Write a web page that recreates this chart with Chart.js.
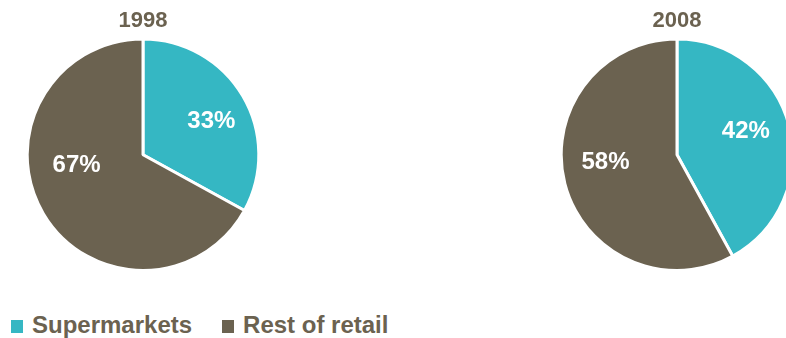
<!DOCTYPE html>
<html>
<head>
<meta charset="utf-8">
<script src="https://cdn.jsdelivr.net/npm/chart.js@4/dist/chart.umd.min.js"></script>
<style>
  html, body { margin: 0; padding: 0; background: #fff; }
  body { width: 786px; height: 338px; position: relative; overflow: hidden; font-family: "Liberation Sans", Arial, Helvetica, sans-serif; }
  .pie { position: absolute; top: 0; }
  #legend { position: absolute; left: 11px; top: 311px; display: flex; align-items: center; }
  .item { display: flex; align-items: center; margin-right: 30px; color: #6b6250; font-weight: bold; font-size: 24px; }
  .box { width: 12px; height: 13px; margin-right: 9px; margin-top: 2px; }
</style>
</head>
<body>
<canvas id="pie1998" class="pie" width="240" height="272" style="left:23px"></canvas>
<canvas id="pie2008" class="pie" width="240" height="272" style="left:557px"></canvas>
<div id="legend"></div>
<script>
const categorias = ['Supermarkets', 'Rest of retail'];
const cores = ['#35b7c3', '#6b6250'];
const anos = ['1998', '2008'];
const valores1998 = [33, 67];
const valores2008 = [42, 58];

const corTexto = '#6b6250';
const fonte = '"Liberation Sans", Arial, Helvetica, sans-serif';

// rótulos de porcentagem dentro das fatias
const rotulosPct = {
    id: 'rotulosPct',
    afterDatasetsDraw(chart, args, opts) {
        const ctx = chart.ctx;
        const meta = chart.getDatasetMeta(0);
        const dados = chart.data.datasets[0].data;
        ctx.save();
        ctx.fillStyle = '#fff';
        ctx.font = 'bold 24px ' + fonte;
        ctx.textAlign = 'center';
        ctx.textBaseline = 'middle';
        meta.data.forEach((arc, i) => {
            const p = arc.getProps(['x', 'y', 'startAngle', 'endAngle', 'outerRadius'], true);
            const ajuste = (opts.ajustes && opts.ajustes[i]) || { giro: 0, r: 0.62 };
            const ang = (p.startAngle + p.endAngle) / 2 + ajuste.giro * Math.PI / 180;
            const r = p.outerRadius * ajuste.r;
            ctx.fillText(dados[i] + '%', p.x + Math.cos(ang) * r, p.y + Math.sin(ang) * r + 1);
        });
        ctx.restore();
    }
};

function montarPizza(id, titulo, valores, ajustes) {
    return new Chart(document.getElementById(id), {
        type: 'pie',
        data: { labels: categorias, datasets: [{ data: valores, backgroundColor: cores, borderColor: '#fff', borderWidth: 3, hoverOffset: 0 }] },
        options: {
            responsive: false, animation: false, devicePixelRatio: 1,
            layout: { padding: 0 },
            plugins: {
                legend: { display: false },
                tooltip: { enabled: false },
                title: { display: true, text: titulo, color: corTexto, font: { family: fonte, size: 22, weight: 'bold' }, padding: { top: 8, bottom: 3 } },
                rotulosPct: { ajustes: ajustes }
            }
        },
        plugins: [rotulosPct]
    });
}

montarPizza('pie1998', anos[0], valores1998, [{ giro: 4, r: 0.66 }, { giro: 22, r: 0.58 }]);
montarPizza('pie2008', anos[1], valores2008, [{ giro: -5, r: 0.63 }, { giro: 9, r: 0.62 }]);

// legenda em HTML
const legenda = document.getElementById('legend');
categorias.forEach((c, i) => {
    const item = document.createElement('div');
    item.className = 'item';
    item.innerHTML = `<span class="box" style="background:${cores[i]}"></span>${c}`;
    legenda.appendChild(item);
});
</script>
</body>
</html>
